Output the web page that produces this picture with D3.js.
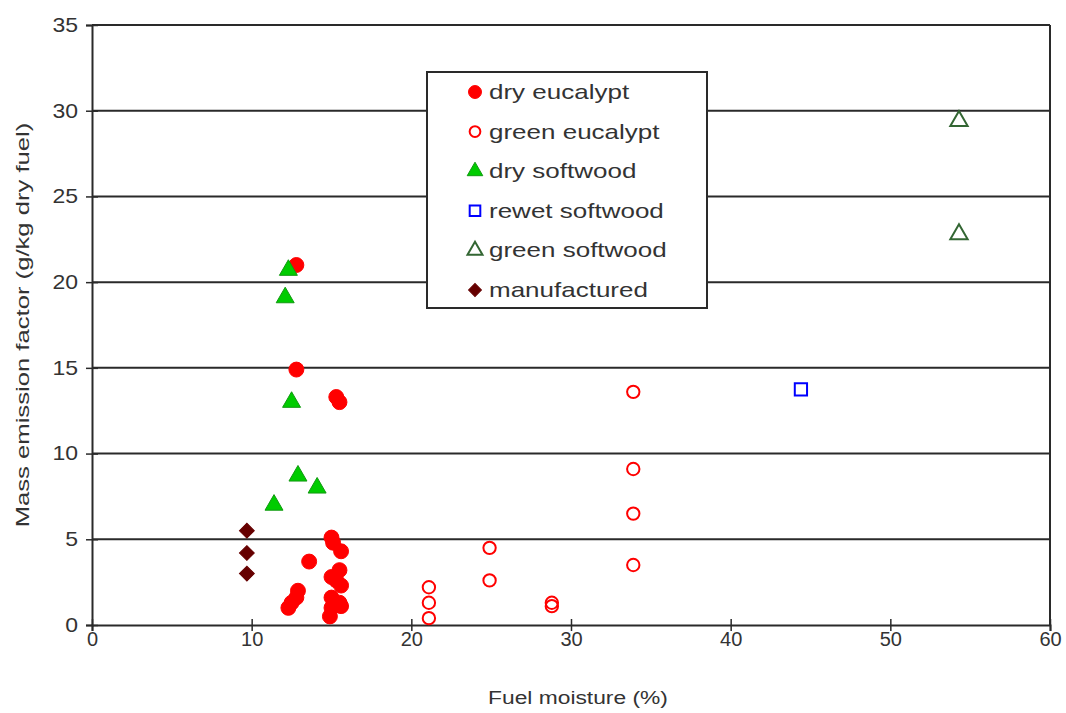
<!DOCTYPE html>
<html>
<head>
<meta charset="utf-8">
<script src="https://cdn.jsdelivr.net/npm/d3@7"></script>
<style>
  body { margin: 0; background: #fff; }
  text { font-family: "Liberation Sans", Arial, sans-serif; fill: #333; }
</style>
</head>
<body>
<div id="chart"></div>
<script>
// values: [fuel moisture %, mass emission factor]
var dryEucalypt = [
  [12.8, 21.0], [12.8, 14.9], [15.3, 13.3], [15.5, 13.0], [13.6, 3.7],
  [15.0, 5.1], [15.1, 4.8], [15.6, 4.3], [15.5, 3.2], [15.0, 2.8],
  [15.3, 2.6], [15.6, 2.3], [15.0, 1.6], [15.5, 1.3], [15.0, 1.0],
  [15.6, 1.1], [14.9, 0.5], [12.9, 2.0], [12.8, 1.6], [12.5, 1.3], [12.3, 1.0]
];
var greenEucalypt = [
  [33.9, 13.6], [33.9, 9.1], [33.9, 6.5], [33.9, 3.5], [24.9, 4.5],
  [24.9, 2.6], [21.1, 2.2], [21.1, 1.3], [21.1, 0.4], [28.8, 1.3], [28.8, 1.1]
];
var drySoftwood = [
  [12.3, 20.7], [12.1, 19.1], [12.5, 13.0], [12.9, 8.7], [14.1, 8.0], [11.4, 7.0]
];
var rewetSoftwood = [[44.4, 13.75]];
var greenSoftwood = [[54.3, 29.4], [54.3, 22.8]];
var manufactured = [[9.7, 5.5], [9.7, 4.2], [9.7, 3.0]];

var xTicks = [0, 10, 20, 30, 40, 50, 60];
var yTicks = [0, 5, 10, 15, 20, 25, 30, 35];

var seriesNames = ["dry eucalypt", "green eucalypt", "dry softwood",
                   "rewet softwood", "green softwood", "manufactured"];

var series = [
  { name: seriesNames[0], data: dryEucalypt, shape: d3.symbolCircle, size: 175, fill: "#ff0000", stroke: "#ff0000", sw: 1 },
  { name: seriesNames[1], data: greenEucalypt, shape: d3.symbolCircle, size: 120, fill: "none", stroke: "#ff0000", sw: 2 },
  { name: seriesNames[2], data: drySoftwood, shape: d3.symbolTriangle, size: 140, fill: "#00cc00", stroke: "#119911", sw: 1 },
  { name: seriesNames[3], data: rewetSoftwood, shape: d3.symbolSquare, size: 150, fill: "none", stroke: "#0000ff", sw: 2 },
  { name: seriesNames[4], data: greenSoftwood, shape: d3.symbolTriangle, size: 130, fill: "none", stroke: "#336633", sw: 2 },
  { name: seriesNames[5], data: manufactured, shape: d3.symbolSquare, size: 110, fill: "#660000", stroke: "#660000", sw: 1, rot: 45 }
];

var margin = { top: 25, right: 16, bottom: 88, left: 92 },
    width = 1066 - margin.left - margin.right,
    height = 713 - margin.top - margin.bottom;

var svg = d3.select("#chart")
  .append("svg")
  .attr("width", 1066)
  .attr("height", 713);

var graph = svg.append("g")
  .attr("transform", "translate(" + margin.left + "," + margin.top + ")");

var x = d3.scaleLinear().domain([0, 60]).range([0, width]);
var y = d3.scaleLinear().domain([0, 35]).range([height, 0]);

// horizontal gridlines
graph.selectAll(".grid")
  .data(yTicks.slice(1))
  .enter()
  .append("line")
  .attr("x1", 0)
  .attr("x2", width)
  .attr("y1", function (d) { return y(d); })
  .attr("y2", function (d) { return y(d); })
  .attr("stroke", "#2a2a2a")
  .attr("stroke-width", 2);

// right border
graph.append("line")
  .attr("x1", width).attr("x2", width)
  .attr("y1", 0).attr("y2", height)
  .attr("stroke", "#2a2a2a").attr("stroke-width", 2);

var xAxis = graph.append("g")
  .attr("transform", "translate(0," + height + ")")
  .call(d3.axisBottom(x).tickValues(xTicks).tickSize(6).tickPadding(1));
xAxis.selectAll(".tick line").attr("y1", -6).attr("y2", 6);

var yAxis = graph.append("g")
  .call(d3.axisLeft(y).tickValues(yTicks).tickSize(6).tickPadding(8));
yAxis.selectAll(".tick line").attr("x1", -6).attr("x2", 6);

[xAxis, yAxis].forEach(function (a) {
  a.select(".domain").attr("stroke", "#2a2a2a").attr("stroke-width", 2);
  a.selectAll(".tick line").attr("stroke", "#2a2a2a").attr("stroke-width", 1.5);
  a.selectAll(".tick text")
    .style("font-size", "20px")
    .style("font-family", "Liberation Sans, Arial, sans-serif")
    .attr("fill", "#333");
});
yAxis.selectAll(".tick text")
  .attr("transform", "translate(-14,0) scale(1.15,1) translate(14,0)");

// points
series.forEach(function (s) {
  graph.selectAll(null)
    .data(s.data)
    .enter()
    .append("path")
    .attr("d", d3.symbol().type(s.shape).size(s.size))
    .attr("transform", function (d) {
      return "translate(" + x(d[0]) + "," + y(d[1]) + ")" + (s.rot ? " rotate(" + s.rot + ")" : "");
    })
    .attr("fill", s.fill)
    .attr("stroke", s.stroke)
    .attr("stroke-width", s.sw);
});

// legend
var legend = svg.append("g").attr("transform", "translate(427,72)");
legend.append("rect")
  .attr("width", 280).attr("height", 236)
  .attr("fill", "#fff")
  .attr("stroke", "#2a2a2a").attr("stroke-width", 2);

var rows = legend.selectAll(".row")
  .data(series)
  .enter()
  .append("g")
  .attr("transform", function (d, i) { return "translate(0," + (20 + i * 39.6) + ")"; });

rows.append("path")
  .attr("d", function (d) { return d3.symbol().type(d.shape).size(d.size * 0.75)(); })
  .attr("transform", function (d) { return "translate(48,0)" + (d.rot ? " rotate(" + d.rot + ")" : ""); })
  .attr("fill", function (d) { return d.fill; })
  .attr("stroke", function (d) { return d.stroke; })
  .attr("stroke-width", function (d) { return d.sw; });

rows.append("text")
  .attr("transform", "translate(62,7) scale(1.3,1)")
  .style("font-size", "20px")
  .text(function (d) { return d.name; });

// axis titles
svg.append("text")
  .attr("transform", "translate(578,704) scale(1.2,1)")
  .attr("text-anchor", "middle")
  .style("font-size", "19px")
  .text("Fuel moisture (%)");

svg.append("text")
  .attr("transform", "translate(29,325) rotate(-90) scale(1.35,1)")
  .attr("text-anchor", "middle")
  .style("font-size", "19px")
  .text("Mass emission factor (g/kg dry fuel)");
</script>
</body>
</html>
